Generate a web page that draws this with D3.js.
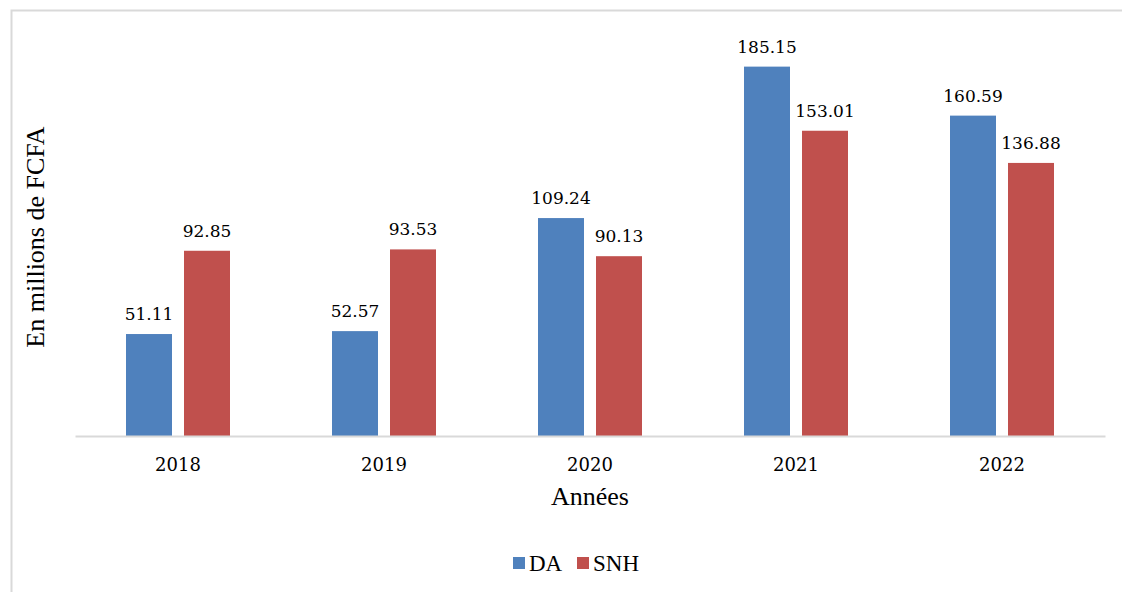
<!DOCTYPE html>
<html>
<head>
<meta charset="utf-8">
<script src="https://cdn.jsdelivr.net/npm/d3@7"></script>
<style>
  body { margin: 0; background: #fff; }
  text { fill: #000; }
</style>
</head>
<body>
<svg id="chart"></svg>
<script>
const years = ["2018", "2019", "2020", "2021", "2022"];
const seriesNames = ["DA", "SNH"];
const daValues = [51.11, 52.57, 109.24, 185.15, 160.59];
const snhValues = [92.85, 93.53, 90.13, 153.01, 136.88];
const colors = ["#4f81bd", "#c0504d"];

const W = 1122, H = 592;
const numFont = "'DejaVu Serif', Georgia, serif";
const txtFont = "'Liberation Serif', 'Times New Roman', serif";

const svg = d3.select("#chart").attr("width", W).attr("height", H);

// chart border (right and bottom edges fall outside the picture)
svg.append("rect")
  .attr("x", 11.5).attr("y", 10.5)
  .attr("width", 1130).attr("height", 600)
  .attr("fill", "none").attr("stroke", "#d9d9d9").attr("stroke-width", 2);

const x = d3.scaleBand().domain(years).range([75, 1105]);
const x1 = d3.scaleBand().domain(seriesNames).range([x.bandwidth() / 2 - 52, x.bandwidth() / 2 + 52]).paddingInner(0.207);
const y = d3.scaleLinear().domain([0, 200]).range([436, 37]);

const rows = years.map((yr, i) => ({ year: yr, vals: [daValues[i], snhValues[i]] }));

const groups = svg.selectAll(".grp")
  .data(rows)
  .enter()
  .append("g")
  .attr("class", "grp")
  .attr("transform", d => `translate(${x(d.year)},0)`);

groups.selectAll("rect")
  .data(d => d.vals.map((v, j) => ({ name: seriesNames[j], v, j })))
  .enter()
  .append("rect")
  .attr("x", d => x1(d.name))
  .attr("y", d => y(d.v))
  .attr("width", x1.bandwidth())
  .attr("height", d => y(0) - y(d.v))
  .attr("fill", d => colors[d.j]);

groups.selectAll(".label")
  .data(d => d.vals.map((v, j) => ({ name: seriesNames[j], v, j })))
  .enter()
  .append("text")
  .attr("class", "label")
  .attr("x", d => x1(d.name) + x1.bandwidth() / 2)
  .attr("y", d => y(d.v) - 14)
  .attr("text-anchor", "middle")
  .style("font-family", numFont)
  .style("font-size", "17px")
  .text(d => d.v.toFixed(2));

// x axis
const xAxis = svg.append("g")
  .attr("transform", `translate(0,${y(0)})`)
  .call(d3.axisBottom(x).tickSize(0).tickPadding(22));
xAxis.select(".domain").attr("stroke", "#d9d9d9").attr("stroke-width", 2);
xAxis.selectAll("text")
  .style("font-family", numFont)
  .style("font-size", "18px")
  .attr("fill", "#000");

svg.append("text")
  .attr("x", x.range()[0] + (x.range()[1] - x.range()[0]) / 2)
  .attr("y", 505)
  .attr("text-anchor", "middle")
  .style("font-family", txtFont)
  .style("font-size", "26px")
  .text("Années");

svg.append("text")
  .attr("transform", "rotate(-90)")
  .attr("x", -237)
  .attr("y", 44)
  .attr("text-anchor", "middle")
  .style("font-family", txtFont)
  .style("font-size", "26px")
  .text("En millions de FCFA");

// legend
const legendX = [513, 577];
const legend = svg.selectAll(".leg")
  .data(seriesNames)
  .enter()
  .append("g")
  .attr("class", "leg")
  .attr("transform", (d, i) => `translate(${legendX[i]},557)`);
legend.append("rect")
  .attr("width", 12).attr("height", 12)
  .attr("fill", (d, i) => colors[i]);
legend.append("text")
  .attr("x", 16)
  .attr("y", 14)
  .style("font-family", txtFont)
  .style("font-size", "23px")
  .text(d => d);
</script>
</body>
</html>
